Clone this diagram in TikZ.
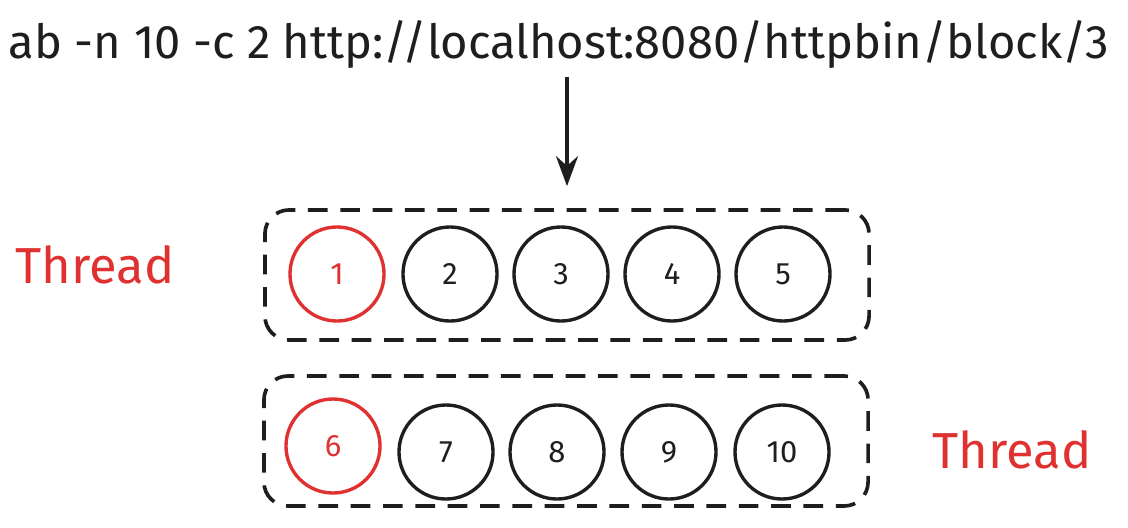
\documentclass[tikz,border=0pt]{standalone}
\usepackage{fontspec}
\setmainfont{Fira Sans}
\usetikzlibrary{arrows.meta}

\definecolor{inkblack}{HTML}{1E1E1E}
\definecolor{inkred}{HTML}{E03131}

\tikzset{
  slot/.style={circle,draw=inkblack,line width=2.4pt,minimum size=2.35cm,inner sep=0pt,text=inkblack,font=\fontsize{22}{26}\selectfont},
  busy/.style={slot,draw=inkred,text=inkred},
  pool/.style={draw=inkblack,line width=2.6pt,dash pattern=on 14pt off 9pt,rounded corners=0.6cm,minimum width=15.1cm,minimum height=3.25cm},
  label/.style={text=inkred,font=\fontsize{36}{40}\selectfont}
}

\begin{document}
\begin{tikzpicture}[x=0.025cm,y=-0.025cm,>={Stealth[length=7.5mm,width=5.5mm]}]
  \useasboundingbox (0,0) rectangle (1128,527);
  \node[inner sep=0pt,text=inkblack,font=\fontsize{33.5}{40}\selectfont] (cmd) at (559,45) {ab -n 10 -c 2 http://localhost:8080/httpbin/block/3};
  % first row
  \node[pool] (row1) at (567,275) {};
  \node[busy] (s1) at (337,274) {1};
  \node[slot] (s2) at (450,274) {2};
  \node[slot] (s3) at (561,274) {3};
  \node[slot] (s4) at (672,274) {4};
  \node[slot] (s5) at (783,274) {5};
  % second row
  \node[pool] (row2) at (566,441) {};
  \node[busy] (s6) at (333,446) {6};
  \node[slot] (s7) at (446,452) {7};
  \node[slot] (s8) at (557,452) {8};
  \node[slot] (s9) at (669,452) {9};
  \node[slot] (s10) at (782,452) {10};
  \node[label] (t1) at (95,265) {Thread};
  \node[label] (t2) at (1012,450) {Thread};
  \draw[->,inkblack,line width=2.4pt,shorten <=2mm,shorten >=5.5mm] (cmd.south -| row1.north) -- (row1.north);
\end{tikzpicture}
\end{document}
